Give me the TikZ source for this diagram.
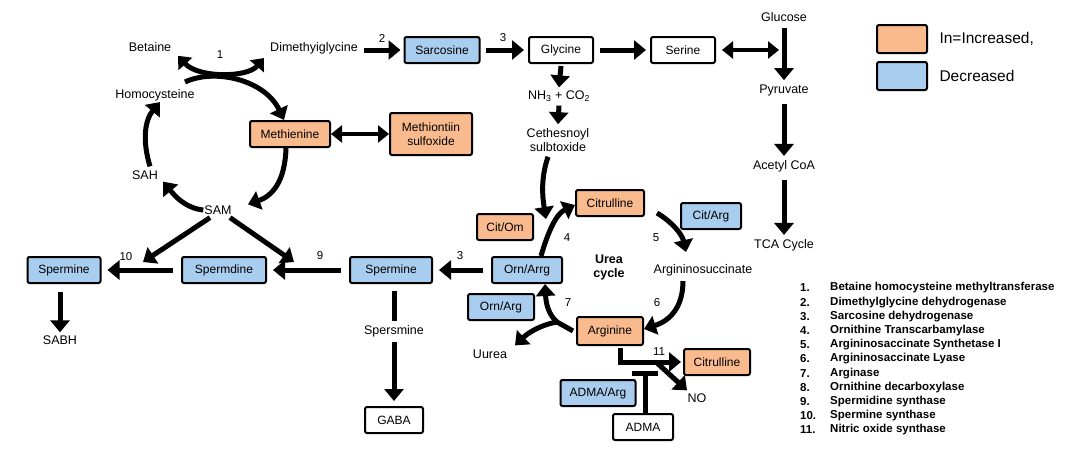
\documentclass[tikz,border=0pt]{standalone}
\usepackage{fontspec}
\setmainfont{Liberation Sans}
\usetikzlibrary{positioning,arrows.meta,calc}
\definecolor{upor}{HTML}{F9BB8E}
\definecolor{dnbl}{HTML}{A9CDEE}
\tikzset{
  met/.style   ={font=\fontsize{12.5}{14}\selectfont, inner sep=1pt, align=center},
  num/.style   ={font=\fontsize{11.5}{12}\selectfont, inner sep=1pt},
  box/.style   ={rectangle, rounded corners=2pt, draw=black, line width=2pt,
                 fill=white, font=\fontsize{12}{14}\selectfont, align=center,
                 minimum height=26pt, inner sep=2pt},
  upbox/.style ={box, fill=upor},
  dnbox/.style ={box, fill=dnbl},
  fl/.style    ={line width=5pt, -{Triangle[length=12pt,width=19pt]}},
  fll/.style   ={line width=4pt, {Triangle[length=11pt,width=17pt]}-{Triangle[length=11pt,width=17pt]}},
  ln/.style    ={line width=5pt},
  inh/.style   ={line width=5pt, -{Bar[width=26pt]}},
  enz/.style   ={font=\fontsize{11.5}{12}\selectfont\bfseries, inner sep=0pt, anchor=west}
}
\begin{document}
\begin{tikzpicture}[x=1pt,y=-1pt]
  \useasboundingbox (0,0) rectangle (1080,455);

  % methionine cycle
  \node[met] (betaine) at (150,47) {Betaine};
  \node[num] (n1) at (220,55) {1};
  \node[met] (dmg) at (314,48) {Dimethyiglycine};
  \node[met] (hcy) at (155,95) {Homocysteine};
  \node[upbox,minimum width=80pt] (meth) at (290,134) {Methienine};
  \node[upbox,minimum width=82pt,minimum height=42pt] (msulf) at (431,134) {Methiontiin\\sulfoxide};
  \node[met] (sah) at (145,175) {SAH};
  \node[met] (sam) at (218,210) {SAM};

  \draw[line width=5pt,{Triangle[length=11pt,width=18pt]}-{Triangle[length=11pt,width=18pt]}]
    ([xshift=28pt,yshift=-3pt]betaine.south) .. controls (198,78) and (247,78) .. ([xshift=-50pt,yshift=-3pt]dmg.south);
  \draw[fl] ([xshift=30pt,yshift=6pt]hcy.north) .. controls (215,68) and (265,80) .. ([xshift=-6pt]meth.north);
  \draw[fll] (meth.east) -- (msulf.west);
  \draw[fl] ([xshift=-4pt]meth.south) .. controls (285,182) and (272,196) .. ([xshift=30pt]sam.north);
  \draw[fl] (sam.west) .. controls (185,208) and (175,196) .. ([xshift=4pt,yshift=-1pt]sah.south east);
  \draw[fl] ([xshift=5pt,yshift=3pt]sah.north) .. controls (142,140) and (145,120) .. ([xshift=5pt]hcy.south);

  % polyamines
  \node[dnbox,minimum width=73pt] (spm1) at (64,270) {Spermine};
  \node[dnbox,minimum width=84pt] (spd) at (224,270) {Spermdine};
  \node[dnbox,minimum width=82pt] (spm2) at (391,270) {Spermine};
  \node[met] (sabh) at (60,340) {SABH};
  \node[met] (spersm) at (394,331) {Spersmine};
  \node[box,minimum width=58pt] (gaba) at (394,420) {GABA};
  \node[num] (n10) at (126,257) {10};
  \node[num] (n9) at (320,256) {9};
  \node[num] (n3b) at (460,256) {3};

  \draw[fl] ([xshift=-8pt,yshift=-2pt]sam.south) -- (143,262);
  \draw[fl] ([xshift=12pt,yshift=-2pt]sam.south) -- (294,262);
  \draw[fl] ([xshift=-8pt]spd.west) -- ([xshift=6pt]spm1.east);
  \draw[fl] ([xshift=-8pt]spm2.west) -- ([xshift=6pt]spd.east);
  \draw[fl] ($(spm1.south -| sabh.north)+(0,8)$) -- ([yshift=2pt]sabh.north);
  \draw[ln] ($(spm2.south -| spersm.north)+(0,7)$) -- ([yshift=3pt]spersm.north);
  \draw[fl] ([yshift=-4pt]spersm.south) -- ([yshift=5pt]gaba.north);

  % glycine / serine / glucose
  \node[dnbox,minimum width=75pt] (sarc) at (442,50) {Sarcosine};
  \node[box,minimum width=64pt] (gly) at (561,50) {Glycine};
  \node[box,minimum width=64pt] (ser) at (683,50) {Serine};
  \node[num] (n2) at (382,38) {2};
  \node[num] (n3a) at (503,38) {3};
  \node[met] (nh3) at (559,96) {NH\textsubscript{3} + CO\textsubscript{2}};
  \node[met] (cethes) at (558,140) {Cethesnoyl\\sulbtoxide};
  \node[met] (glc) at (784,17) {Glucose};
  \node[met] (pyr) at (784,90) {Pyruvate};
  \node[met] (acoa) at (784,166) {Acetyl CoA};
  \node[met] (tca) at (784,245) {TCA Cycle};
  \coordinate (gp) at (779,50);

  \draw[fl] ($(dmg.east |- sarc.west)+(5,0)$) -- ([xshift=-3pt]sarc.west);
  \draw[fl] ([xshift=5pt]sarc.east) -- ([xshift=-4pt]gly.west);
  \draw[fl] ([xshift=6pt]gly.east) -- ([xshift=-4pt]ser.west);
  \draw[fll] ([xshift=6pt]ser.east) -- (gp);
  \draw[fl] ([yshift=-5pt]glc.south) -- ([yshift=3pt]pyr.north);
  \draw[fl] ([yshift=-7pt]pyr.south) -- ([yshift=3pt]acoa.north);
  \draw[fl] ([yshift=-7pt]acoa.south) -- ([yshift=3pt]tca.north);
  \draw[fl] ([yshift=-2pt]gly.south) -- ([yshift=2pt]nh3.north);
  \draw[fl] ([yshift=-3pt]nh3.south) -- ([yshift=3pt]cethes.north);

  % urea cycle
  \node[upbox,minimum width=68pt] (cit1) at (610,203) {Citrulline};
  \node[upbox,minimum width=56pt] (citom) at (505,227) {Cit/Om};
  \node[dnbox,minimum width=60pt] (citarg) at (711,216) {Cit/Arg};
  \node[dnbox,minimum width=70pt] (ornarrg) at (527,270) {Orn/Arrg};
  \node[dnbox,minimum width=66pt] (ornarg) at (501,307) {Orn/Arg};
  \node[upbox,minimum width=66pt,minimum height=28pt] (arg) at (610,331) {Arginine};
  \node[upbox,minimum width=66pt] (cit2) at (717,362) {Citrulline};
  \node[dnbox,minimum width=75pt] (admaarg) at (598,393) {ADMA/Arg};
  \node[box,minimum width=60pt] (adma) at (643,427) {ADMA};
  \node[met,font=\fontsize{12.5}{14}\selectfont\bfseries] (urea) at (609,267) {Urea\\cycle};
  \node[met] (asucc) at (703,270) {Argininosuccinate};
  \node[met] (uurea) at (490,354) {Uurea};
  \node[met] (no) at (697,398) {NO};
  \node[num] (n4) at (567,238) {4};
  \node[num] (n5) at (656,238) {5};
  \node[num] (n6) at (657,303) {6};
  \node[num] (n7) at (568,303) {7};
  \node[num] (n11) at (659,352) {11};
  \coordinate (j7) at (557,322);
  \coordinate (k11) at (656,362);

  \draw[fl] ([xshift=-10pt,yshift=-4pt]cethes.south) .. controls (540,180) and (543,200) .. (546,219);
  \draw[fl] ([xshift=14pt]ornarrg.north) .. controls (548,232) and (556,214) .. ([yshift=-2pt]cit1.west);
  \draw[fl] ([xshift=12pt,yshift=4pt]cit1.south east) .. controls (672,222) and (682,234) .. (686,252);
  \draw[fl] ([xshift=-20pt,yshift=-4pt]asucc.south) .. controls (683,305) and (672,320) .. ([yshift=2pt]arg.east);
  \draw[fl] ([xshift=-8pt]ornarrg.west) -- ([xshift=6pt]spm2.east);
  \draw[ln] ([xshift=-3pt]arg.west) -- (j7);
  \draw[fl] (j7) .. controls (548,314) and (546,303) .. ([xshift=18pt]ornarrg.south);
  \draw[fl] (j7) .. controls (540,325) and (528,333) .. ([xshift=25pt,yshift=3pt]uurea.north);
  \draw[line width=5pt] ([xshift=10pt,yshift=-2pt]arg.south) |- (k11);
  \draw[fl] (k11) -- ([xshift=-2pt]cit2.west);
  \draw[fl] (k11) -- ([xshift=-10pt,yshift=2pt]no.north);
  \draw[inh] ([xshift=2pt]adma.north) -- ([xshift=2pt,yshift=42pt]adma.north);

  % legend
  \node[upbox,minimum width=50pt,minimum height=28pt] (lgup) at (902,39) {};
  \node[dnbox,minimum width=50pt,minimum height=28pt] (lgdn) at (902,76) {};
  \node[font=\fontsize{15.5}{17}\selectfont, anchor=west] (lgupt) at (936,39) {In=Increased,};
  \node[font=\fontsize{15.5}{17}\selectfont, anchor=west] (lgdnt) at (936,76) {Decreased};

  % enzyme list
  \foreach \i/\e in {1/Betaine homocysteine methyltransferase, 2/Dimethylglycine dehydrogenase,
      3/Sarcosine dehydrogenase, 4/Ornithine Transcarbamylase, 5/Argininosaccinate Synthetase I,
      6/Argininosaccinate Lyase, 7/Arginase, 8/Ornithine decarboxylase, 9/Spermidine synthase,
      10/Spermine synthase, 11/Nitric oxide synthase}{
    \node[enz] (ei\i) at (800,{288+(\i-1)*14.2}) {\i.};
    \node[enz] (en\i) at (830,{288+(\i-1)*14.2}) {\e};
  }
\end{tikzpicture}
\end{document}
